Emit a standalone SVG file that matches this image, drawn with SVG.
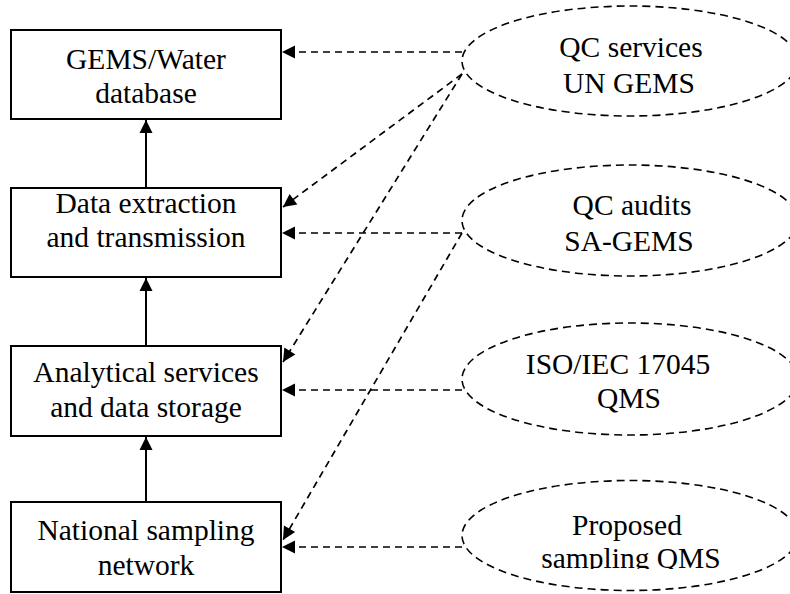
<svg xmlns="http://www.w3.org/2000/svg" width="790" height="594" viewBox="0 0 790 594">
<style>
.box{fill:#fff;stroke:#000;stroke-width:2}
.ell{fill:none;stroke:#000;stroke-width:1.6;stroke-dasharray:8 5}
.t{font-family:"Liberation Serif","Times New Roman",serif;font-size:29.5px;fill:#000;text-anchor:middle}
.solid{stroke:#000;stroke-width:2;fill:none}
.dash{stroke:#000;stroke-width:1.7;fill:none;stroke-dasharray:7 5}
</style>
<defs>
<marker id="ah" markerUnits="userSpaceOnUse" markerWidth="14" markerHeight="14" refX="13" refY="6.5" orient="auto" overflow="visible">
<path d="M0,0 L13,6.5 L0,13 Z" fill="#000"/>
</marker>
<clipPath id="clip4"><rect x="440" y="480" width="350" height="89"/></clipPath>
</defs>
<g id="connectors">
<line class="solid" x1="146" y1="188" x2="146" y2="120" marker-end="url(#ah)"/>
<line class="solid" x1="146" y1="346" x2="146" y2="278" marker-end="url(#ah)"/>
<line class="solid" x1="146" y1="502" x2="146" y2="437" marker-end="url(#ah)"/>
<line class="dash" x1="462" y1="52" x2="282" y2="52" marker-end="url(#ah)"/>
<line class="dash" x1="462" y1="74" x2="283" y2="207" marker-end="url(#ah)"/>
<line class="dash" x1="462" y1="74" x2="283" y2="362" marker-end="url(#ah)"/>
<line class="dash" x1="462" y1="233" x2="282" y2="233" marker-end="url(#ah)"/>
<line class="dash" x1="462" y1="233" x2="283" y2="540" marker-end="url(#ah)"/>
<line class="dash" x1="462" y1="390" x2="282" y2="390" marker-end="url(#ah)"/>
<line class="dash" x1="462" y1="547" x2="282" y2="547" marker-end="url(#ah)"/>
</g>
<g id="gems-water-database">
<rect class="box" x="11" y="30" width="270" height="89"/>
<text class="t" x="146" y="69">GEMS/Water</text>
<text class="t" x="146" y="103">database</text>
</g>
<g id="data-extraction">
<rect class="box" x="11" y="188" width="270" height="89"/>
<text class="t" x="146" y="213">Data extraction</text>
<text class="t" x="146" y="247">and transmission</text>
</g>
<g id="analytical-services">
<rect class="box" x="11" y="346" width="270" height="90"/>
<text class="t" x="146" y="382">Analytical services</text>
<text class="t" x="146" y="417">and data storage</text>
</g>
<g id="national-sampling">
<rect class="box" x="11" y="502" width="270" height="90"/>
<text class="t" x="146" y="540">National sampling</text>
<text class="t" x="146" y="575">network</text>
</g>
<g id="qc-services">
<ellipse class="ell" cx="630" cy="61" rx="168" ry="55"/>
<text class="t" x="631" y="57">QC services</text>
<text class="t" x="629" y="93">UN GEMS</text>
</g>
<g id="qc-audits">
<ellipse class="ell" cx="630" cy="220.5" rx="168" ry="55.5"/>
<text class="t" x="632" y="215">QC audits</text>
<text class="t" x="629" y="251">SA-GEMS</text>
</g>
<g id="iso-qms">
<ellipse class="ell" cx="630" cy="379" rx="168" ry="56"/>
<text class="t" x="618" y="374">ISO/IEC 17045</text>
<text class="t" x="629" y="408">QMS</text>
</g>
<g id="proposed-qms">
<ellipse class="ell" cx="630" cy="535.5" rx="168" ry="55"/>
<text class="t" x="627" y="535">Proposed</text>
<text class="t" x="631" y="568" clip-path="url(#clip4)">sampling QMS</text>
</g>
</svg>
